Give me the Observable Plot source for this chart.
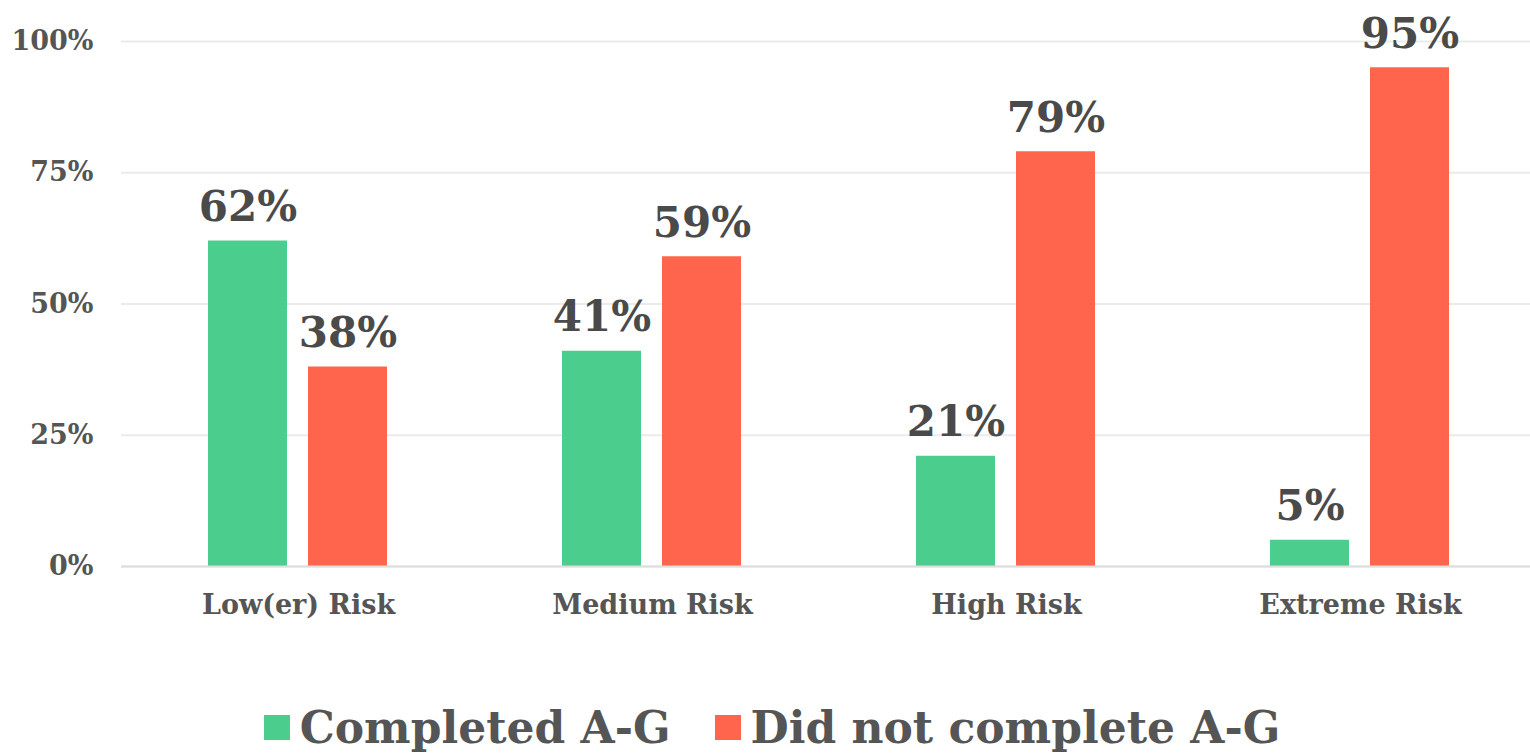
<!DOCTYPE html>
<html>
<head>
<meta charset="utf-8">
<script src="https://cdn.jsdelivr.net/npm/d3@7"></script>
<script src="https://cdn.jsdelivr.net/npm/@observablehq/plot@0.6"></script>
<style>
  body { margin: 0; background: #fff; font-family: "DejaVu Serif", serif; overflow: hidden; }
  #wrap { position: relative; width: 1530px; height: 753px; overflow: hidden; }
  #legend { position: absolute; left: 7px; top: 702px; width: 1530px; display: flex; justify-content: center; align-items: center; font-weight: bold; font-size: 44px; color: #555; }
  .item { display: flex; align-items: center; margin: 0 22px; }
  .sw { width: 26px; height: 25px; margin-right: 10px; display: inline-block; }
</style>
</head>
<body>
<div id="wrap">
  <div id="chart"></div>
  <div id="legend"></div>
</div>
<script>
const categories = ["Low(er) Risk", "Medium Risk", "High Risk", "Extreme Risk"];
const seriesNames = ["Completed A-G", "Did not complete A-G"];
const completed = [62, 41, 21, 5];
const notCompleted = [38, 59, 79, 95];
const yTicks = [0, 25, 50, 75, 100];
const colors = ["#4bcd8e", "#ff654d"];

const data = [];
categories.forEach((c, i) => {
  data.push({risk: c, status: seriesNames[0], value: completed[i]});
  data.push({risk: c, status: seriesNames[1], value: notCompleted[i]});
});

const plot = Plot.plot({
  width: 1530,
  height: 646,
  marginLeft: 120,
  marginRight: -7,
  marginTop: 41,
  marginBottom: 80,
  style: { fontFamily: "DejaVu Serif, serif", background: "#fff", overflow: "hidden" },
  fx: { domain: categories, padding: 0, label: null },
  x: { domain: seriesNames, paddingInner: 0.208, paddingOuter: 0.86, axis: null },
  y: { domain: [0, 100], ticks: yTicks, axis: null },
  color: { domain: seriesNames, range: colors },
  marks: [
    Plot.gridY(yTicks, { stroke: "#ebebeb", strokeOpacity: 1, strokeWidth: 2 }),
    Plot.axisY(yTicks, {
      tickSize: 0, tickPadding: 28, tickFormat: d => d + "%",
      fontSize: 27, fontWeight: "bold", fill: "#555", label: null
    }),
    Plot.barY(data, { fx: "risk", x: "status", y: "value", fill: "status" }),
    Plot.ruleY([0], { stroke: "#dddddd", strokeWidth: 2 }),
    Plot.text(data, {
      fx: "risk", x: "status", y: "value", text: d => d.value + "%",
      lineAnchor: "bottom", dy: -20, fontSize: 42, fontWeight: "bold", fill: "#4a4a4a"
    }),
    Plot.axisFx({
      anchor: "bottom", tickSize: 0, tickPadding: 28, fontSize: 27, fontWeight: "bold", fill: "#555", label: null
    })
  ]
});
document.getElementById("chart").appendChild(plot);

const legend = document.getElementById("legend");
seriesNames.forEach((s, i) => {
  const item = document.createElement("div");
  item.className = "item";
  const sw = document.createElement("span");
  sw.className = "sw";
  sw.style.background = colors[i];
  const t = document.createElement("span");
  t.textContent = s;
  item.appendChild(sw);
  item.appendChild(t);
  legend.appendChild(item);
});
</script>
</body>
</html>
